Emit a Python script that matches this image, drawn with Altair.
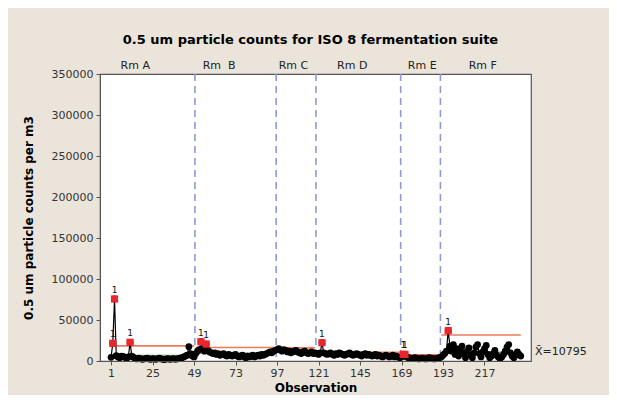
import altair as alt
import pandas as pd

# ---------------- data ----------------
stage_names = ["Rm A", "Rm\u00a0\u00a0B", "Rm C", "Rm D", "Rm E", "Rm F"]
stage_label_obs = [15, 63.5, 106.5, 140.5, 181, 216]

stage_a = [4500, 21600, 75600, 6500, 5000, 4000, 6000, 5500, 4500, 3500,
           5000, 22800, 6000, 4500, 3000, 2500, 3500, 3000, 2000, 2500,
           3000, 3500, 2500, 2000, 3000, 2500, 2000, 3000, 3500, 2500,
           2000, 1800, 2500, 3000, 2000, 2500, 3000, 2200, 2500, 3000,
           3500, 4000, 5000, 6000, 7000, 17500, 9000, 6000, 5000]
stage_b = [9000, 12000, 14000, 23500, 15000, 12000, 20700, 13000, 11000, 10000,
           9000, 10000, 8000, 9000, 7000, 8000, 9000, 7000, 6000, 8000,
           7000, 6000, 7000, 8000, 6000, 5000, 6000, 7000, 5000, 4000,
           6000, 5000, 6000, 7000, 5000, 6000, 7000, 6000, 8000, 7000,
           8000, 9000, 10000, 11000, 10000, 12000, 13000]
stage_c = [14000, 15000, 13000, 12000, 14000, 13000, 11000, 12000, 10000, 11000,
           12000, 13000, 11000, 10000, 9000, 11000, 12000, 10000, 9000, 10000,
           11000, 9000, 10000]
stage_d = [9000, 8000, 10000, 22300, 10000, 9000, 8000, 9000, 10000, 8000,
           7000, 9000, 8000, 10000, 9000, 8000, 7000, 8000, 9000, 10000,
           8000, 7000, 8000, 9000, 8000, 7000, 6000, 8000, 9000, 7000,
           8000, 7000, 6000, 7000, 8000, 6000, 7000, 6000, 5000, 6000,
           7000, 6000, 5000, 6000, 7000, 5000, 6000, 5000, 4000]
stage_e = [5000, 8200, 8000, 5000, 4000, 3500, 3000, 3500, 4000, 3000,
           2500, 3000, 3500, 3000, 2500, 3000, 4000, 3500, 3000, 2500,
           3000, 3500, 4000]
stage_f = [5000, 7000, 9000, 12000, 37000, 18000, 12000, 20000, 8000, 15000,
           6000, 13000, 18000, 9000, 4000, 12000, 16000, 7000, 4000, 10000,
           17000, 20000, 9000, 5000, 11000, 15000, 19000, 8000, 4000, 6000,
           9000, 13000, 7000, 5000, 3000, 5000, 8000, 12000, 17000, 20000,
           10000, 6000, 4000, 7000, 11000, 8000, 6000]

ucl_values = [18500, 16500, 16000, 10500, 7500, 31700]
center_values = [7000, 9500, 11500, 7500, 3600, 10795]

x_ticks = [1, 25, 49, 73, 97, 121, 145, 169, 193, 217]
y_ticks = [0, 50000, 100000, 150000, 200000, 250000, 300000, 350000]
x_domain = [-5.4, 243.9]
y_domain = [0, 350000]

title_text = "0.5 um particle counts for ISO 8 fermentation suite"
y_title = "0.5 um particle counts per m3"
x_title = "Observation"
mean_label = "X\u0304=10795"

# ---------------- tables ----------------
stages = [stage_a, stage_b, stage_c, stage_d, stage_e, stage_f]
rows, seg_rows, bounds = [], [], []
obs = 1
for i, vals in enumerate(stages):
    start = obs
    for v in vals:
        rows.append({"obs": obs, "value": v, "stage": i,
                     "ooc": v > ucl_values[i]})
        obs += 1
    end = obs - 1
    seg_rows.append({"stage": i, "start": start, "end": end,
                     "ucl": ucl_values[i], "cl": center_values[i]})
    if i < len(stages) - 1:
        bounds.append({"b": end + 0.5})

df = pd.DataFrame(rows)
seg = pd.DataFrame(seg_rows)
bnd = pd.DataFrame(bounds)
lab = pd.DataFrame({"obs": stage_label_obs, "name": stage_names})
mean_df = pd.DataFrame({"v": [center_values[-1]], "t": [mean_label]})

xs = alt.Scale(domain=x_domain, nice=False, zero=False)
ys = alt.Scale(domain=y_domain, nice=False)

x_axis = alt.Axis(values=x_ticks, title=x_title, grid=False, tickSize=4,
                  labelPadding=2, titleY=26, titleBaseline="middle",
                  labelFontSize=11, zindex=1)
y_axis = alt.Axis(values=y_ticks, format="d", title=y_title, grid=False,
                  tickSize=4, labelPadding=3, titleX=-65, titleY=143.5,
                  titleBaseline="bottom", titleAlign="center", zindex=1)

X = alt.X("obs:Q", scale=xs, axis=x_axis)
Y = alt.Y("value:Q", scale=ys, axis=y_axis)

cl = alt.Chart(seg).mark_rule(color="#5CB85C", strokeWidth=1.2).encode(
    x=alt.X("start:Q", scale=xs), x2="end:Q", y=alt.Y("cl:Q", scale=ys))
uc = alt.Chart(seg).mark_rule(color="#F07A5A", strokeWidth=1.6).encode(
    x=alt.X("start:Q", scale=xs), x2="end:Q", y=alt.Y("ucl:Q", scale=ys))
dash = alt.Chart(bnd).mark_rule(color="#8E98DA", strokeWidth=1.6,
                                strokeDash=[7, 5]).encode(
    x=alt.X("b:Q", scale=xs))
line = alt.Chart(df).mark_line(color="#000000", strokeWidth=1.2).encode(
    x=X, y=Y, detail="stage:N")
pts = alt.Chart(df).mark_point(filled=True, shape="circle", size=46,
                               color="#000000", opacity=1).encode(x=X, y=Y)
red = alt.Chart(df).transform_filter("datum.ooc").mark_point(
    filled=True, shape="square", size=52, color="#E8262B", opacity=1).encode(
    x=X, y=Y)
ones = alt.Chart(df).transform_filter("datum.ooc").mark_text(
    text="1", dy=-9, fontSize=9, font="DejaVu Sans", color="#111").encode(
    x=X, y=Y)
stage_txt = alt.Chart(lab).mark_text(
    fontSize=11, font="DejaVu Sans", color="#222", baseline="middle").encode(
    x=alt.X("obs:Q", scale=xs), y=alt.value(-8), text="name:N")
mean_txt = alt.Chart(mean_df).mark_text(
    fontSize=11, font="DejaVu Sans", color="#222", align="left",
    baseline="middle").encode(
    x=alt.value(435), y=alt.Y("v:Q", scale=ys), text="t:N")

chart = alt.layer(cl, uc, dash, line, pts, red, ones, stage_txt, mean_txt).properties(
    width=431, height=287,
    autosize=alt.AutoSizeParams(type="none"),
    padding={"left": 92, "top": 66, "right": 78, "bottom": 34},
    background="#EAE4DA",
    title=alt.TitleParams(title_text, font="DejaVu Sans", fontSize=13,
                          fontWeight="bold", color="#000", anchor="middle",
                          offset=13, dx=-5),
).configure_view(
    fill="#FFFFFF", stroke="#555555", strokeWidth=1.2
).configure_axis(
    labelFont="DejaVu Sans", labelFontSize=11, labelColor="#333",
    titleFont="DejaVu Sans", titleFontSize=12, titleFontWeight="bold",
    titleColor="#000", domainColor="#555", tickColor="#555"
)

chart.save("out.html", embed_options={"renderer": "svg", "actions": False})
